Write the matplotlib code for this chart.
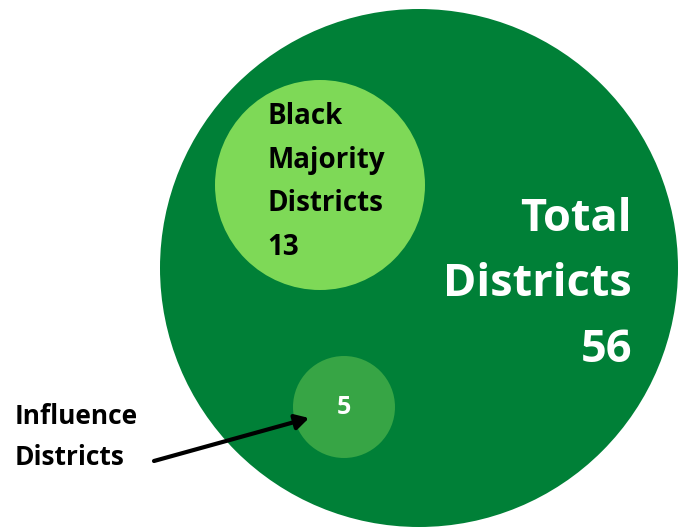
import matplotlib
matplotlib.use('Agg')
import matplotlib.pyplot as plt
from matplotlib.patches import Circle

# district counts
GROUPS = ['Total Districts', 'Black Majority Districts', 'Influence Districts']
COUNTS = [56, 13, 5]
COLORS = ['#008037', '#7ed957', '#37a545']

# layout in pixel coords (x right, y down)
CENTERS = [(419, 268), (320, 185), (344, 407)]
RADII = [259, 105, 51]

W, H = 683, 527
FONT = ['Open Sans', 'DejaVu Sans']

fig = plt.figure(figsize=(W / 100, H / 100), dpi=100)
ax = fig.add_axes([0, 0, 1, 1])
ax.set_xlim(0, W)
ax.set_ylim(H, 0)
ax.set_aspect('equal')
ax.axis('off')

for (cx, cy), r, c in zip(CENTERS, RADII, COLORS):
    ax.add_patch(Circle((cx, cy), r, color=c, lw=0))

# big circle label, right aligned
ax.text(632, 285, f'Total\nDistricts\n{COUNTS[0]}', ha='right', va='center',
        fontsize=32.5, fontweight='bold', color='white', family=FONT,
        linespacing=1.6)

# black majority label, left aligned
ax.text(267, 182, f'Black\nMajority\nDistricts\n{COUNTS[1]}', ha='left', va='center',
        fontsize=20, fontweight='bold', color='black', family=FONT,
        linespacing=1.66)

# influence count in the small circle
ax.text(344, 407, str(COUNTS[2]), ha='center', va='center',
        fontsize=18, fontweight='bold', color='white', family=FONT)

# influence label + arrow
ax.text(15, 437, 'Influence\nDistricts', ha='left', va='center',
        fontsize=19, fontweight='bold', color='black', family=FONT,
        linespacing=1.62)
ax.annotate('', xy=(309, 418), xytext=(154, 461),
            arrowprops=dict(arrowstyle='-|>,head_length=0.8,head_width=0.45',
                            color='black', lw=3, shrinkA=0, shrinkB=0))

fig.savefig('out.png', dpi=100, facecolor='white')
